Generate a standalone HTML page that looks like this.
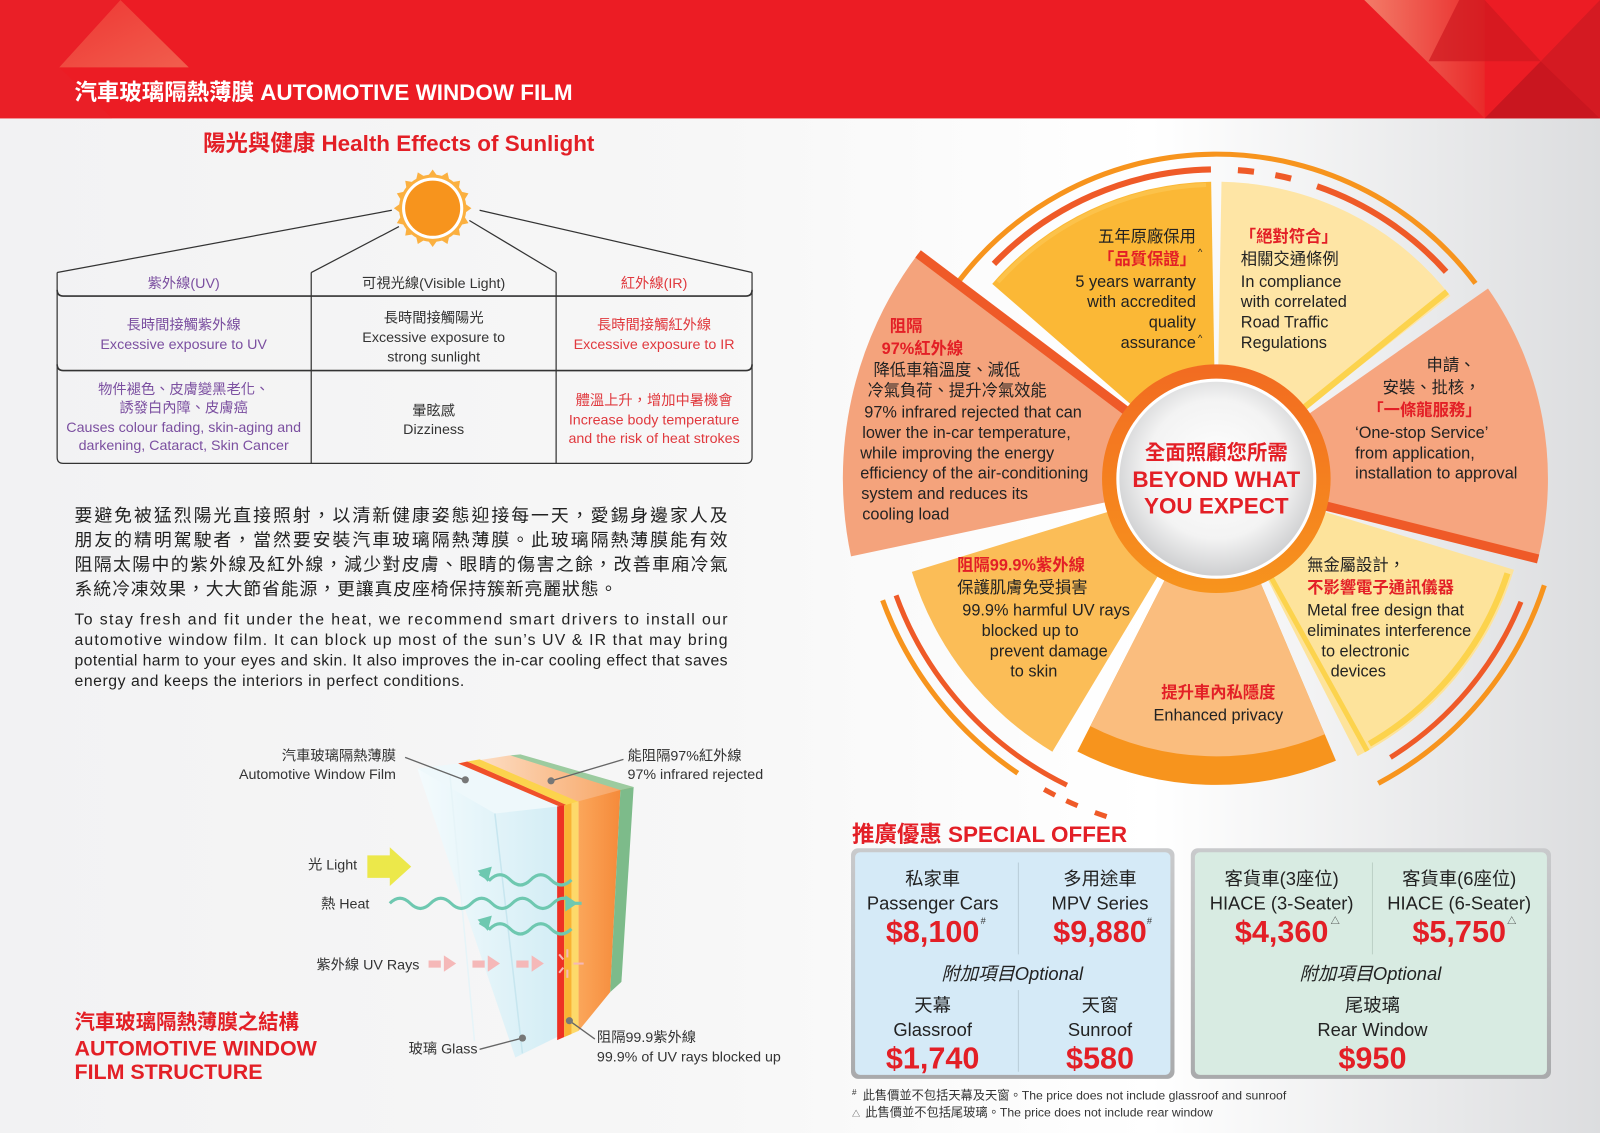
<!DOCTYPE html>
<html><head><meta charset="utf-8"><style>
html,body{margin:0;padding:0;width:1600px;height:1133px;overflow:hidden;background:#f4f4f5}
svg{display:block}
text{font-family:"Liberation Sans","Noto Sans CJK TC",sans-serif}
.b{font-weight:bold}
</style></head><body>
<svg id="s" width="1600" height="1133" viewBox="0 0 1568 1110" preserveAspectRatio="none" xmlns="http://www.w3.org/2000/svg">
<defs>
<linearGradient id="bg" x1="0" y1="0" x2="1" y2="0"><stop offset="0" stop-color="#f2f2f3"/><stop offset="0.45" stop-color="#f7f7f7"/><stop offset="0.72" stop-color="#ffffff"/><stop offset="1" stop-color="#dcdddf"/></linearGradient>
<linearGradient id="rl" x1="0" y1="0" x2="1" y2="0"><stop offset="0" stop-color="#f37b68"/><stop offset="1" stop-color="#e92a2a"/></linearGradient>
<linearGradient id="ll" x1="0" y1="0" x2="1" y2="1"><stop offset="0" stop-color="#ee3a35"/><stop offset="1" stop-color="#f26a55"/></linearGradient>
<radialGradient id="cg" cx="0.5" cy="0.45" r="0.6"><stop offset="0" stop-color="#ffffff"/><stop offset="0.6" stop-color="#f3f3f3"/><stop offset="1" stop-color="#c4c5c7"/></radialGradient>
<linearGradient id="og" x1="0" y1="0" x2="0" y2="1"><stop offset="0" stop-color="#f26b21"/><stop offset="1" stop-color="#f7941d"/></linearGradient>
<linearGradient id="glass" x1="0" y1="0" x2="1" y2="0"><stop offset="0" stop-color="#f4fbfd"/><stop offset="1" stop-color="#d3edf5"/></linearGradient>
<linearGradient id="orng" x1="0" y1="0" x2="1" y2="0"><stop offset="0" stop-color="#fba65a"/><stop offset="1" stop-color="#f58a3a"/></linearGradient>
<linearGradient id="topf" x1="0" y1="0" x2="1" y2="0"><stop offset="0" stop-color="#fde6d2"/><stop offset="1" stop-color="#f7a05c"/></linearGradient>
<linearGradient id="box" x1="0" y1="0" x2="0" y2="1"><stop offset="0" stop-color="#c9cacc"/><stop offset="1" stop-color="#a9aaac"/></linearGradient>
</defs>
<rect width="1568" height="1110" fill="url(#bg)"/>
<!-- banner -->
<rect width="1568" height="116" fill="#ec1c24"/>
<polygon points="118,0 185,66 58,66" fill="url(#ll)" opacity="0.85"/>
<polygon points="58,66 118,0 0,0 0,116 110,116" fill="#e8222a" opacity="0.5"/>
<polygon points="1337,0 1455,116 1455,0" fill="url(#rl)"/>
<polygon points="1455,116 1510,60 1568,116" fill="#c9161f"/>
<polygon points="1400,60 1510,60 1455,0 1430,0" fill="#cf1820" opacity="0.7"/>
<polygon points="1510,60 1568,0 1568,116" fill="#d41a22"/>
<text x="73" y="98" fill="#fff" class="b" font-size="22">汽車玻璃隔熱薄膜 AUTOMOTIVE WINDOW FILM</text>

<!-- health effects -->
<text x="199" y="148" fill="#e31f26" class="b" font-size="22">陽光與健康 Health Effects of Sunlight</text>
<g transform="translate(424,204)">
<circle r="33" fill="#fbb040"/>
<g fill="#fbb040" id="rays"></g>
<circle r="30" fill="#fff"/>
<circle r="27" fill="#f7941d"/>
</g>
<g stroke="#333" stroke-width="1.2" fill="none">
<line x1="384" y1="206" x2="56" y2="267"/>
<line x1="391" y1="222" x2="305" y2="267"/>
<line x1="460" y1="216" x2="545" y2="267"/>
<line x1="470" y1="206" x2="737" y2="267"/>
<path d="M56,267 V448 Q56,454 62,454 H731 Q737,454 737,448 V267"/>
<path d="M56,284 Q56,290 62,290 H731 Q737,290 737,284" stroke-width="1.6"/>
<path d="M56,357 Q56,363 62,363 H731 Q737,363 737,357" stroke-width="1.6"/>
<line x1="305" y1="267" x2="305" y2="454"/>
<line x1="545" y1="267" x2="545" y2="454"/>
</g>
<g font-size="14" text-anchor="middle">
<text x="180" y="282" fill="#7b4fa0">紫外線(UV)</text>
<text x="425" y="282" fill="#333">可視光線(Visible Light)</text>
<text x="641" y="282" fill="#e0393e">紅外線(IR)</text>
<text x="180" y="323" fill="#7b4fa0">長時間接觸紫外線</text>
<text x="180" y="342" fill="#7b4fa0">Excessive exposure to UV</text>
<text x="425" y="316" fill="#333">長時間接觸陽光</text>
<text x="425" y="335" fill="#333">Excessive exposure to</text>
<text x="425" y="354" fill="#333">strong sunlight</text>
<text x="641" y="323" fill="#e0393e">長時間接觸紅外線</text>
<text x="641" y="342" fill="#e0393e">Excessive exposure to IR</text>
<text x="180" y="386" fill="#7b4fa0">物件褪色、皮膚變黑老化、</text>
<text x="180" y="404" fill="#7b4fa0">誘發白內障、皮膚癌</text>
<text x="180" y="423" fill="#7b4fa0">Causes colour fading, skin-aging and</text>
<text x="180" y="441" fill="#7b4fa0">darkening, Cataract, Skin Cancer</text>
<text x="425" y="407" fill="#333">暈眩感</text>
<text x="425" y="425" fill="#333">Dizziness</text>
<text x="641" y="397" fill="#e0393e">體溫上升，增加中暑機會</text>
<text x="641" y="416" fill="#e0393e">Increase body temperature</text>
<text x="641" y="434" fill="#e0393e">and the risk of heat strokes</text>
</g>
<g font-size="17.5" fill="#222">
<text x="73" y="511" textLength="640" lengthAdjust="spacing">要避免被猛烈陽光直接照射，以清新健康姿態迎接每一天，愛錫身邊家人及</text>
<text x="73" y="535" textLength="640" lengthAdjust="spacing">朋友的精明駕駛者，當然要安裝汽車玻璃隔熱薄膜。此玻璃隔熱薄膜能有效</text>
<text x="73" y="559" textLength="640" lengthAdjust="spacing">阻隔太陽中的紫外線及紅外線，減少對皮膚、眼睛的傷害之餘，改善車廂冷氣</text>
<text x="73" y="583" textLength="532" lengthAdjust="spacing">系統冷凍效果，大大節省能源，更讓真皮座椅保持簇新亮麗狀態。</text>
</g>
<g font-size="15.5" fill="#222">
<text x="73" y="612" textLength="640" lengthAdjust="spacing">To stay fresh and fit under the heat, we recommend smart drivers to install our</text>
<text x="73" y="632" textLength="640" lengthAdjust="spacing">automotive window film. It can block up most of the sun’s UV &amp; IR that may bring</text>
<text x="73" y="652" textLength="640" lengthAdjust="spacing">potential harm to your eyes and skin. It also improves the in-car cooling effect that saves</text>
<text x="73" y="672" textLength="382" lengthAdjust="spacing">energy and keeps the interiors in perfect conditions.</text>
</g>

<!-- film structure -->
<polygon points="409,753 449,748 548,790 548,1015 505,1036" fill="url(#glass)"/>
<polygon points="409,753 449,748 548,790 485,797" fill="#eef8fb"/>
<line x1="485" y1="797" x2="512" y2="1032" stroke="#c7e6ef" stroke-width="1.5"/>
<line x1="441" y1="760" x2="465" y2="1020" stroke="#e6f4f8" stroke-width="1.5"/>
<polygon points="449,748 500,740 621,772 552,790" fill="url(#topf)"/>
<polygon points="449,748 458,746 556,789 548,790" fill="#f0502a"/>
<polygon points="458,746 470,744 568,786 556,789" fill="#fcd34d"/>
<polygon points="546,790 553,789 553,1016 546,1019" fill="#ee3124"/>
<polygon points="553,789 567,785 567,1010 553,1016" fill="#fdd96a"/>
<polygon points="553,789 560,787 560,1013 553,1016" fill="#f9b233"/>
<polygon points="567,785 608,774 598,972 567,1010" fill="url(#orng)"/>
<polygon points="608,774 621,771 609,962 598,972" fill="#7dbb8a"/>
<polygon points="500,740 510,739 621,771 608,774" fill="#9ccb9f"/>
<!-- arrows -->
<polygon points="360,838 382,838 382,830 403,849 382,868 382,860 360,860" fill="#ece84a"/>
<g stroke="#6ec8b0" stroke-width="3" fill="none">
<path d="M382,885 q10,-10 20,0 t20,0 t20,0 t20,0 t20,0 t20,0 t20,0 t20,0 t20,0 l8,0"/>
<path d="M560,862 q-10,10 -20,0 t-20,0 t-20,0 t-20,0 l-10,-6"/>
<path d="M560,910 q-10,10 -20,0 t-20,0 t-20,0 t-20,0 l-10,-6"/>
</g>
<polygon points="566,885 554,877 554,893" fill="#6ec8b0"/>
<polygon points="468,853 482,849 478,864" fill="#6ec8b0"/>
<polygon points="468,901 482,897 478,912" fill="#6ec8b0"/>
<g fill="#f5b8b8">
<rect x="420" y="941" width="12" height="7"/><polygon points="435,936 447,944 435,952"/>
<rect x="463" y="941" width="12" height="7"/><polygon points="478,936 490,944 478,952"/>
<rect x="506" y="941" width="12" height="7"/><polygon points="521,936 533,944 521,952"/>
</g>
<g stroke="#f5b8b8" stroke-width="2"><line x1="556" y1="930" x2="556" y2="938"/><line x1="556" y1="950" x2="556" y2="958"/><line x1="562" y1="944" x2="572" y2="944"/><line x1="548" y1="935" x2="552" y2="940"/><line x1="548" y1="953" x2="552" y2="948"/></g>
<g stroke="#666" stroke-width="1.3"><line x1="397" y1="742" x2="455" y2="764"/><line x1="611" y1="744" x2="540" y2="765"/><line x1="470" y1="1028" x2="512" y2="1017"/><line x1="583" y1="1018" x2="558" y2="1000"/></g>
<g fill="#777"><circle cx="456" cy="764" r="3.5"/><circle cx="540" cy="765" r="3.5"/><circle cx="512" cy="1017" r="3.5"/><circle cx="558" cy="1000" r="3.5"/></g>
<g font-size="14" fill="#333">
<text x="388" y="745" text-anchor="end">汽車玻璃隔熱薄膜</text>
<text x="388" y="763" text-anchor="end">Automotive Window Film</text>
<text x="615" y="745">能阻隔97%紅外線</text>
<text x="615" y="763">97% infrared rejected</text>
<text x="350" y="852" text-anchor="end">光 Light</text>
<text x="362" y="890" text-anchor="end">熱 Heat</text>
<text x="411" y="950" text-anchor="end">紫外線 UV Rays</text>
<text x="468" y="1032" text-anchor="end">玻璃 Glass</text>
<text x="585" y="1021">阻隔99.9紫外線</text>
<text x="585" y="1040">99.9% of UV rays blocked up</text>
</g>
<g fill="#e31f26" class="b">
<text x="73" y="1008" font-size="20">汽車玻璃隔熱薄膜之結構</text>
<text x="73" y="1034" font-size="21">AUTOMOTIVE WINDOW</text>
<text x="73" y="1057" font-size="21">FILM STRUCTURE</text>
</g>

<!-- wheel -->
<g id="wheel"></g>
<circle cx="1192" cy="469" r="112" fill="url(#og)"/>
<circle cx="1192" cy="469" r="98" fill="#fff"/>
<circle cx="1192" cy="469" r="95" fill="url(#cg)"/>
<g text-anchor="middle" fill="#e31f26" class="b">
<text x="1192" y="450" font-size="20">全面照顧您所需</text>
<text x="1192" y="477" font-size="22">BEYOND WHAT</text>
<text x="1192" y="503" font-size="22">YOU EXPECT</text>
</g>
<g font-size="16" fill="#222">
<g text-anchor="end">
<text x="1172" y="237">五年原廠保用</text>
<text x="1172" y="259" fill="#e31f26" class="b">「品質保證」</text>
<text x="1172" y="281">5 years warranty</text>
<text x="1172" y="301">with accredited</text>
<text x="1172" y="321">quality</text>
<text x="1172" y="341">assurance</text>
</g>
<text x="1174" y="250" font-size="9">^</text><text x="1174" y="334" font-size="9">^</text>
<text x="1215" y="237" fill="#e31f26" class="b">「絕對符合」</text>
<text x="1216" y="259">相關交通條例</text>
<text x="1216" y="281">In compliance</text>
<text x="1216" y="301">with correlated</text>
<text x="1216" y="321">Road Traffic</text>
<text x="1216" y="341">Regulations</text>
<text x="1398" y="363">申請、</text>
<text x="1355" y="385">安裝、批核，</text>
<text x="1340" y="407" fill="#e31f26" class="b">「一條龍服務」</text>
<text x="1328" y="429">‘One-stop Service’</text>
<text x="1328" y="449">from application,</text>
<text x="1328" y="469">installation to approval</text>
<text x="872" y="325" fill="#e31f26" class="b">阻隔</text>
<text x="864" y="347" fill="#e31f26" class="b">97%紅外線</text>
<text x="856" y="368">降低車箱溫度、減低</text>
<text x="850" y="388">冷氣負荷、提升冷氣效能</text>
<text x="847" y="409">97% infrared rejected that can</text>
<text x="845" y="429">lower the in-car temperature,</text>
<text x="843" y="449">while improving the energy</text>
<text x="843" y="469">efficiency of the air-conditioning</text>
<text x="844" y="489">system and reduces its</text>
<text x="845" y="509">cooling load</text>
<text x="938" y="559" fill="#e31f26" class="b">阻隔99.9%紫外線</text>
<text x="938" y="581">保護肌膚免受損害</text>
<text x="943" y="603">99.9% harmful UV rays</text>
<text x="962" y="623">blocked up to</text>
<text x="970" y="643">prevent damage</text>
<text x="990" y="663">to skin</text>
<text x="1194" y="684" text-anchor="middle" fill="#e31f26" class="b">提升車內私隱度</text>
<text x="1194" y="706" text-anchor="middle">Enhanced privacy</text>
<text x="1281" y="559">無金屬設計，</text>
<text x="1281" y="581" fill="#e31f26" class="b">不影響電子通訊儀器</text>
<text x="1281" y="603">Metal free design that</text>
<text x="1281" y="623">eliminates interference</text>
<text x="1295" y="643">to electronic</text>
<text x="1304" y="663">devices</text>
</g>

<!-- special offer -->
<text x="835" y="825" fill="#e31f26" class="b" font-size="22">推廣優惠 SPECIAL OFFER</text>
<rect x="834" y="831" width="317" height="226" rx="7" fill="url(#box)"/>
<rect x="838" y="835" width="309" height="218" rx="5" fill="#d5eaf7"/>
<rect x="1167" y="831" width="353" height="226" rx="7" fill="url(#box)"/>
<rect x="1171" y="835" width="345" height="218" rx="5" fill="#d8ebe2"/>
<g stroke="#b9cdd8" stroke-width="1"><line x1="998" y1="845" x2="998" y2="935"/><line x1="998" y1="970" x2="998" y2="1050"/></g>
<line x1="1345" y1="845" x2="1345" y2="935" stroke="#bcd0c6"/>
<g text-anchor="middle" fill="#222" font-size="18">
<text x="914" y="867">私家車</text><text x="914" y="891">Passenger Cars</text>
<text x="1078" y="867">多用途車</text><text x="1078" y="891">MPV Series</text>
<text x="914" y="991">天幕</text><text x="914" y="1015">Glassroof</text>
<text x="1078" y="991">天窗</text><text x="1078" y="1015">Sunroof</text>
<text x="992" y="960" font-style="italic">附加項目Optional</text>
<text x="1256" y="867">客貨車(3座位)</text><text x="1256" y="891">HIACE (3-Seater)</text>
<text x="1430" y="867">客貨車(6座位)</text><text x="1430" y="891">HIACE (6-Seater)</text>
<text x="1343" y="960" font-style="italic">附加項目Optional</text>
<text x="1345" y="991">尾玻璃</text><text x="1345" y="1015">Rear Window</text>
</g>
<g text-anchor="middle" fill="#e31f26" class="b" font-size="30">
<text x="914" y="923">$8,100</text><text x="1078" y="923">$9,880</text>
<text x="914" y="1047">$1,740</text><text x="1078" y="1047">$580</text>
<text x="1256" y="923">$4,360</text><text x="1430" y="923">$5,750</text>
<text x="1345" y="1047">$950</text>
</g>
<g font-size="9" fill="#333"><text x="961" y="905">#</text><text x="1124" y="905">#</text><text x="1304" y="905">△</text><text x="1477" y="905">△</text></g>
<g font-size="12" fill="#333">
<text x="835" y="1077"><tspan font-size="8" dy="-4">#</tspan><tspan dy="4" dx="6">此售價並不包括天幕及天窗。The price does not include glassroof and sunroof</tspan></text>
<text x="835" y="1094"><tspan font-size="8">△</tspan><tspan dx="5">此售價並不包括尾玻璃。The price does not include rear window</tspan></text>
</g>
</svg>
<script>
(function(){
var NS="http://www.w3.org/2000/svg",cx=1192,cy=469;
function P(a,r){a=a*Math.PI/180;return [cx+r*Math.sin(a),cy-r*Math.cos(a)];}
function el(t,at,par){var e=document.createElementNS(NS,t);for(var k in at)e.setAttribute(k,at[k]);(par||document.getElementById('wheel')).appendChild(e);return e;}
function wedge(a0,a1,r,c){var p0=P(a0,r),p1=P(a1,r);el('path',{d:'M'+cx+','+cy+' L'+p0+' A'+r+','+r+' 0 0 1 '+p1+' Z',fill:c});}
function arc(a0,a1,r,c,w){var p0=P(a0,r),p1=P(a1,r);el('path',{d:'M'+p0+' A'+r+','+r+' 0 '+((a1-a0)>180?1:0)+' 1 '+p1,fill:'none',stroke:c,'stroke-width':w});}
function ray(a,r0,r1,c,w){var p0=P(a,r0),p1=P(a,r1);el('line',{x1:p0[0],y1:p0[1],x2:p1[0],y2:p1[1],stroke:c,'stroke-width':w});}
// rings
arc(-54,53,318,'#f7941d',5);
arc(-46,-1,303,'#ef5a28',6);arc(4,7,303,'#ef5a28',6);arc(11,14,303,'#ef5a28',6);arc(19,48,303,'#ef5a28',6);
arc(108,152,338,'#f7941d',5);arc(112,148,322,'#ef5a28',5);
arc(206,250,334,'#ef5a28',5);arc(214,250,348,'#f7941d',5);
arc(203,205,348,'#ef5a28',5);arc(207,209,348,'#ef5a28',5);arc(198,200,348,'#ef5a28',5);
// wedges
wedge(-49,-1,291,'#fbb836');
wedge(1,52,291,'#fee5a5');
wedge(55,104,325,'#f6a57f');
wedge(107,153,305,'#fde39b');
wedge(157,207,300,'#f7941d');
wedge(157,207,272,'#fabd7e');
wedge(211,253,312,'#fbbd57');
wedge(258,307,366,'#f4a37c');
ray(307,110,366,'#ef5a28',9);
ray(104,110,325,'#ef5a28',9);
ray(51,110,291,'#fcd34d',6);
ray(151,110,305,'#fcd34d',5);
arc(108,150,300,'#fcd34d',6);
arc(-48,-2,288,'#fcc24a',4);
// sun rays
var g=document.getElementById('rays');
for(var i=0;i<16;i++){var a=i*22.5*Math.PI/180;var x=Math.sin(a),y=-Math.cos(a),px=Math.cos(a),py=Math.sin(a);
el('polygon',{points:(x*31+px*5)+','+(y*31+py*5)+' '+(x*38)+','+(y*38)+' '+(x*31-px*5)+','+(y*31-py*5)},g);}
})();
</script>
</body></html>
